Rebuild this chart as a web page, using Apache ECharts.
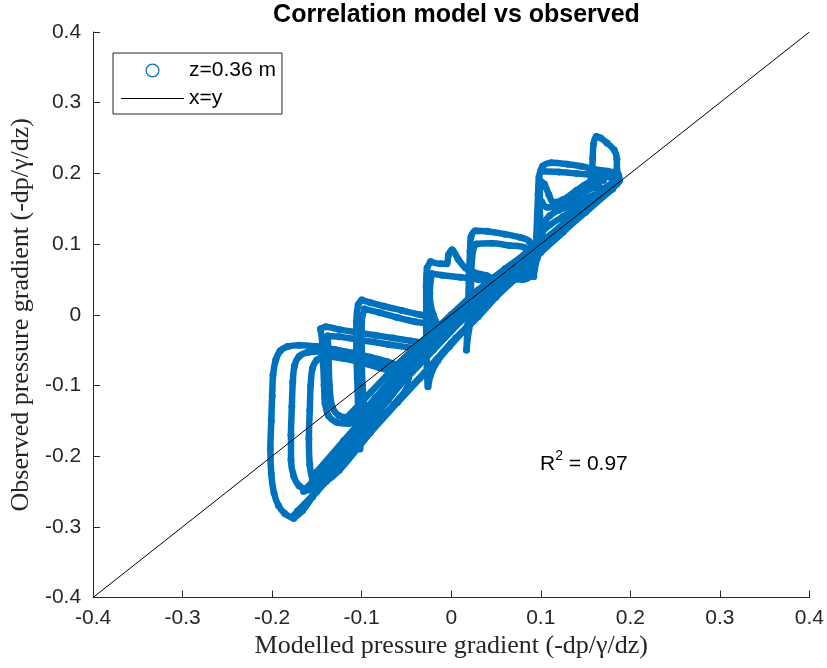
<!DOCTYPE html>
<html>
<head>
<meta charset="utf-8">
<script src="https://cdn.jsdelivr.net/npm/echarts@6/dist/echarts.min.js"></script>
<style>
  html, body { margin: 0; padding: 0; background: #fff; }
  #chart { width: 827px; height: 668px; }
</style>
</head>
<body>
<div id="chart"></div>
<script>
// Axis ticks
const xTicks = [-0.4, -0.3, -0.2, -0.1, 0, 0.1, 0.2, 0.3, 0.4];
const xTickLabels = ['-0.4', '-0.3', '-0.2', '-0.1', '0', '0.1', '0.2', '0.3', '0.4'];
const yTicks = [-0.4, -0.3, -0.2, -0.1, 0, 0.1, 0.2, 0.3, 0.4];
const yTickLabels = ['-0.4', '-0.3', '-0.2', '-0.1', '0', '0.1', '0.2', '0.3', '0.4'];

// Reference line x = y
const identityLine = [[-0.4, -0.4], [0.4, 0.4]];

// Measured hysteresis cycles at z = 0.36 m: [modelled, observed]
const cycle1 = [[-0.176,-0.288],[-0.186,-0.281],[-0.193,-0.27],[-0.198,-0.252],[-0.201,-0.225],[-0.202,-0.19],[-0.201,-0.15],[-0.2,-0.115],[-0.199,-0.085],[-0.196,-0.064],[-0.191,-0.051],[-0.183,-0.045],[-0.17,-0.043],[-0.15,-0.045],[-0.13,-0.049],[-0.11,-0.054],[-0.09,-0.06],[-0.072,-0.066],[-0.06,-0.072],[-0.054,-0.085],[-0.058,-0.1],[-0.07,-0.12],[-0.085,-0.145],[-0.1,-0.168],[-0.12,-0.2],[-0.14,-0.233],[-0.155,-0.258],[-0.166,-0.277],[-0.176,-0.288]];
const cycle2 = [[-0.16,-0.248],[-0.17,-0.242],[-0.176,-0.228],[-0.179,-0.205],[-0.179,-0.17],[-0.178,-0.13],[-0.177,-0.095],[-0.175,-0.072],[-0.17,-0.059],[-0.16,-0.053],[-0.145,-0.052],[-0.125,-0.056],[-0.105,-0.062],[-0.085,-0.069],[-0.068,-0.076],[-0.057,-0.083],[-0.062,-0.1],[-0.075,-0.122],[-0.092,-0.15],[-0.11,-0.18],[-0.13,-0.213],[-0.147,-0.238],[-0.16,-0.248]];
const cycle3 = [[-0.15,-0.24],[-0.155,-0.232],[-0.158,-0.212],[-0.159,-0.175],[-0.158,-0.135],[-0.157,-0.1],[-0.155,-0.076],[-0.15,-0.064],[-0.14,-0.059],[-0.12,-0.062],[-0.1,-0.068],[-0.08,-0.075],[-0.062,-0.082],[-0.048,-0.09],[-0.05,-0.105],[-0.065,-0.128],[-0.085,-0.158],[-0.105,-0.19],[-0.125,-0.22],[-0.14,-0.236],[-0.15,-0.24]];
const cycle4 = [[-0.146,-0.02],[-0.144,-0.04],[-0.143,-0.07],[-0.142,-0.1],[-0.141,-0.125],[-0.137,-0.143],[-0.128,-0.152],[-0.115,-0.154],[-0.103,-0.148],[-0.09,-0.13],[-0.075,-0.108],[-0.06,-0.085],[-0.046,-0.065],[-0.036,-0.05],[-0.034,-0.041],[-0.045,-0.037],[-0.065,-0.033],[-0.085,-0.029],[-0.105,-0.025],[-0.125,-0.021],[-0.14,-0.017],[-0.146,-0.02]];
const cycle5 = [[-0.138,-0.03],[-0.137,-0.06],[-0.136,-0.1],[-0.133,-0.13],[-0.125,-0.143],[-0.112,-0.145],[-0.1,-0.138],[-0.085,-0.118],[-0.068,-0.093],[-0.052,-0.07],[-0.04,-0.052],[-0.045,-0.047],[-0.07,-0.042],[-0.1,-0.036],[-0.125,-0.031],[-0.138,-0.03]];
const cycle6 = [[-0.1,0.021],[-0.104,0.014],[-0.106,-0.01],[-0.106,-0.05],[-0.105,-0.09],[-0.104,-0.13],[-0.103,-0.165],[-0.102,-0.19],[-0.1,-0.17],[-0.092,-0.145],[-0.078,-0.12],[-0.062,-0.095],[-0.046,-0.07],[-0.032,-0.048],[-0.022,-0.03],[-0.018,-0.012],[-0.022,-0.004],[-0.035,0.0],[-0.055,0.006],[-0.075,0.012],[-0.09,0.017],[-0.1,0.021]];
const cycle7 = [[-0.097,0.008],[-0.1,-0.01],[-0.1,-0.05],[-0.099,-0.1],[-0.095,-0.135],[-0.08,-0.115],[-0.06,-0.085],[-0.04,-0.055],[-0.025,-0.028],[-0.022,-0.015],[-0.04,-0.01],[-0.06,-0.004],[-0.08,0.003],[-0.097,0.008]];
const cycle8 = [[-0.023,0.075],[-0.027,0.066],[-0.028,0.04],[-0.028,0.0],[-0.028,-0.04],[-0.027,-0.075],[-0.026,-0.102],[-0.023,-0.085],[-0.015,-0.065],[-0.002,-0.045],[0.012,-0.025],[0.025,-0.005],[0.037,0.015],[0.046,0.032],[0.048,0.048],[0.04,0.055],[0.025,0.06],[0.016,0.066],[0.008,0.078],[0.001,0.092],[-0.003,0.085],[-0.005,0.072],[-0.012,0.072],[-0.023,0.075]];
const cycle9 = [[-0.022,0.058],[-0.024,0.03],[-0.02,0.0],[-0.01,-0.02],[0.005,-0.01],[0.02,0.01],[0.035,0.03],[0.04,0.045],[0.03,0.05],[0.01,0.053],[-0.01,0.056],[-0.022,0.058]];
const cycle10 = [[0.017,-0.05],[0.018,-0.02],[0.019,0.02],[0.02,0.06],[0.021,0.09],[0.022,0.11],[0.027,0.119],[0.04,0.118],[0.06,0.114],[0.078,0.109],[0.087,0.104],[0.09,0.09],[0.09,0.07],[0.089,0.055],[0.08,0.05],[0.068,0.05],[0.058,0.046],[0.045,0.028],[0.032,0.008],[0.022,-0.01],[0.017,-0.05]];
const cycle11 = [[0.024,0.09],[0.028,0.1],[0.045,0.101],[0.065,0.098],[0.082,0.095],[0.086,0.085],[0.085,0.06],[0.075,0.056],[0.062,0.057],[0.05,0.045],[0.035,0.025],[0.025,0.01],[0.022,0.05],[0.024,0.09]];
const cycle12 = [[0.092,0.054],[0.094,0.08],[0.095,0.11],[0.096,0.14],[0.097,0.17],[0.098,0.195],[0.102,0.21],[0.112,0.215],[0.13,0.213],[0.145,0.21],[0.16,0.206],[0.175,0.203],[0.186,0.2],[0.188,0.19],[0.18,0.18],[0.165,0.165],[0.148,0.148],[0.13,0.13],[0.115,0.113],[0.103,0.098],[0.096,0.08],[0.092,0.054]];
const cycle13 = [[0.1,0.203],[0.12,0.202],[0.14,0.2],[0.155,0.198],[0.17,0.196],[0.185,0.19],[0.18,0.178],[0.16,0.16],[0.14,0.142],[0.12,0.122],[0.105,0.108],[0.099,0.14],[0.099,0.19],[0.104,0.185],[0.109,0.17],[0.114,0.159],[0.125,0.163],[0.14,0.176],[0.155,0.188],[0.17,0.19]];
const cycle14 = [[0.155,0.185],[0.157,0.2],[0.158,0.222],[0.159,0.242],[0.162,0.252],[0.167,0.25],[0.174,0.243],[0.182,0.233],[0.185,0.22],[0.185,0.205],[0.184,0.195],[0.176,0.183],[0.165,0.178],[0.155,0.185]];
const sweepLow = [[-0.172,-0.278],[-0.14,-0.236],[-0.1,-0.178],[-0.06,-0.122],[-0.03,-0.082],[0.0,-0.04],[0.03,-0.003],[0.06,0.04],[0.09,0.078],[0.12,0.112],[0.15,0.145],[0.18,0.178]];
const sweepMid = [[-0.16,-0.245],[-0.12,-0.188],[-0.08,-0.13],[-0.05,-0.09],[-0.02,-0.05],[0.01,-0.01],[0.04,0.03],[0.07,0.065],[0.1,0.1],[0.13,0.128],[0.16,0.158],[0.185,0.185]];
const sweepHigh = [[-0.12,-0.15],[-0.09,-0.11],[-0.06,-0.07],[-0.03,-0.035],[0.0,0.0],[0.03,0.035],[0.06,0.065],[0.09,0.092],[0.12,0.12],[0.15,0.152],[0.18,0.183]];
const sweepFill = [[0.103,0.13],[0.11,0.14],[0.12,0.148],[0.135,0.155],[0.15,0.165],[0.165,0.172],[0.18,0.18]];
const sweepFill2 = [[0.1,0.115],[0.11,0.127],[0.125,0.139],[0.14,0.152],[0.16,0.167],[0.18,0.183]];
const sweepFill3 = [[0.101,0.16],[0.107,0.152],[0.118,0.152],[0.132,0.162],[0.148,0.174],[0.165,0.182]];
const sweepA = [[-0.175,-0.283],[-0.15,-0.25],[-0.12,-0.208],[-0.09,-0.166],[-0.06,-0.124],[-0.035,-0.09],[-0.015,-0.062],[0.005,-0.033],[0.025,-0.008],[0.05,0.025],[0.075,0.055],[0.1,0.088],[0.125,0.117],[0.15,0.148],[0.175,0.175]];
const sweepB = [[-0.165,-0.25],[-0.14,-0.215],[-0.11,-0.172],[-0.08,-0.13],[-0.05,-0.088],[-0.025,-0.055],[0.0,-0.022],[0.025,0.01],[0.05,0.042],[0.075,0.072],[0.1,0.102],[0.125,0.128],[0.15,0.155],[0.18,0.185]];
const sweepC = [[-0.15,-0.222],[-0.12,-0.178],[-0.09,-0.135],[-0.065,-0.1],[-0.04,-0.065],[-0.015,-0.03],[0.01,0.005],[0.04,0.04],[0.07,0.073],[0.1,0.105]];

const cycles = [cycle1, cycle2, cycle3, cycle4, cycle5, cycle6, cycle7, cycle8, cycle9,
  cycle10, cycle11, cycle12, cycle13, cycle14, sweepLow, sweepMid, sweepHigh, sweepFill,
  sweepFill2, sweepFill3, sweepA, sweepB, sweepC];

const seriesName = 'z=0.36 m';
const lineName = 'x=y';
const r2Text = '0.97';

const BLUE = '#0072BD';
const AXIS = '#262626';

// Small open ring for the legend marker, thin bar for the reference line
const ringIcon = 'path://M7,0A7,7,0,1,1,7,14A7,7,0,1,1,7,0ZM7,1.3A5.7,5.7,0,1,0,7,12.7A5.7,5.7,0,1,0,7,1.3Z';
const barIcon = 'path://M0,0H63V1.2H0Z';

const series = cycles.map(function (pts) {
  return {
    name: seriesName,
    type: 'line',
    data: pts,
    smooth: 0.3,
    symbol: 'circle',
    symbolSize: 7,
    showSymbol: true,
    lineStyle: { color: BLUE, width: 6.5 },
    itemStyle: { color: BLUE },
    emphasis: { disabled: true },
    z: 2
  };
});
series.push({
  name: lineName,
  type: 'line',
  data: identityLine,
  symbol: 'none',
  lineStyle: { color: '#000', width: 1 },
  itemStyle: { color: '#000' },
  emphasis: { disabled: true },
  z: 5
});

function fmt(ticks, labels) {
  return function (v) {
    for (let i = 0; i < ticks.length; i++) {
      if (Math.abs(ticks[i] - v) < 1e-9) return labels[i];
    }
    return '';
  };
}

const chart = echarts.init(document.getElementById('chart'), null, { renderer: 'canvas' });
chart.setOption({
  animation: false,
  backgroundColor: '#fff',
  title: {
    text: 'Correlation model vs observed',
    left: 451.5,
    textAlign: 'center',
    top: -2,
    textStyle: { fontFamily: 'Liberation Sans', fontWeight: 'bold', fontSize: 25, color: '#000' }
  },
  grid: { left: 93, right: 17, top: 32, bottom: 70.5, containLabel: false },
  legend: {
    orient: 'vertical',
    left: 113,
    top: 53,
    itemWidth: 63,
    itemHeight: 14,
    itemGap: 7,
    padding: [7, 6, 5, 8],
    borderColor: AXIS,
    borderWidth: 1,
    backgroundColor: '#fff',
    textStyle: { fontFamily: 'Liberation Sans', fontSize: 21, color: '#000' },
    data: [
      { name: seriesName, icon: ringIcon, itemStyle: { color: BLUE, borderWidth: 0 } },
      { name: lineName, icon: barIcon, itemStyle: { color: '#000', borderWidth: 0 } }
    ]
  },
  xAxis: {
    type: 'value',
    min: -0.4,
    max: 0.4,
    interval: 0.1,
    name: 'Modelled pressure gradient (-dp/γ/dz)',
    nameLocation: 'middle',
    nameGap: 36,
    nameTextStyle: { fontFamily: 'Liberation Serif', fontSize: 26, color: AXIS },
    axisLine: { show: true, onZero: false, lineStyle: { color: AXIS, width: 1 } },
    axisTick: { show: true, inside: true, length: 7, lineStyle: { color: AXIS } },
    axisLabel: { margin: 10, fontFamily: 'Liberation Sans', fontSize: 21, color: AXIS, formatter: fmt(xTicks, xTickLabels) },
    splitLine: { show: false }
  },
  yAxis: {
    type: 'value',
    min: -0.4,
    max: 0.4,
    interval: 0.1,
    name: 'Observed pressure gradient (-dp/γ/dz)',
    nameLocation: 'middle',
    nameGap: 58,
    nameTextStyle: { fontFamily: 'Liberation Serif', fontSize: 26, color: AXIS },
    axisLine: { show: true, onZero: false, lineStyle: { color: AXIS, width: 1 } },
    axisTick: { show: true, inside: true, length: 7, lineStyle: { color: AXIS } },
    axisLabel: { margin: 12, fontFamily: 'Liberation Sans', fontSize: 21, color: AXIS, formatter: fmt(yTicks, yTickLabels) },
    splitLine: { show: false }
  },
  graphic: [{
    type: 'text',
    x: 540,
    y: 462,
    style: {
      text: '{r|R}{s|2}{r| = ' + r2Text + '}',
      verticalAlign: 'middle',
      rich: {
        r: { fontFamily: 'Liberation Sans', fontSize: 21, fill: '#000', verticalAlign: 'bottom', lineHeight: 25 },
        s: { fontFamily: 'Liberation Sans', fontSize: 14, fill: '#000', verticalAlign: 'top', lineHeight: 25 }
      }
    }
  }],
  series: series
});
</script>
</body>
</html>
